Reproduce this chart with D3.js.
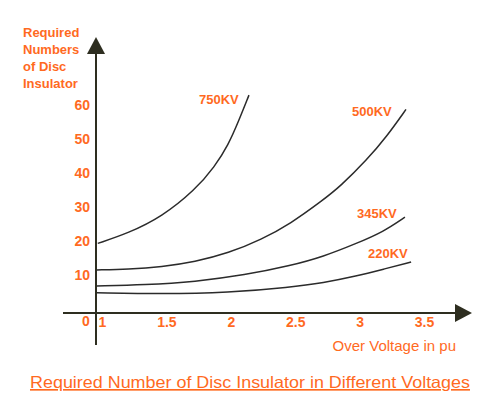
<!DOCTYPE html>
<html>
<head>
<meta charset="utf-8">
<script src="https://cdn.jsdelivr.net/npm/d3@7"></script>
<style>
  body { margin: 0; background: #fff; }
  svg { display: block; }
  text { font-family: "Liberation Sans", Arial, sans-serif; fill: #ff6a1f; }
</style>
</head>
<body>
<svg id="chart" width="500" height="416"></svg>
<script>
// values (over voltage in pu, number of discs)
const seriesNames = ["750KV", "500KV", "345KV", "220KV"];
const pu750 = [0.967, 1.204, 1.464, 1.722, 1.876, 1.981, 2.058, 2.141];
const discs750 = [19.3, 22.3, 27.1, 35.0, 41.9, 48.3, 55.0, 62.9];
const pu500 = [0.959, 1.204, 1.464, 1.722, 1.981, 2.24, 2.46, 2.718, 2.848, 3.055, 3.21, 3.36];
const discs500 = [11.5, 11.7, 12.4, 13.9, 16.4, 20.5, 25.0, 32.1, 36.0, 43.8, 50.7, 58.7];
const pu345 = [0.959, 1.334, 1.722, 2.11, 2.46, 2.718, 2.977, 3.184, 3.352];
const discs345 = [6.8, 7.1, 8.0, 10.0, 12.7, 15.4, 19.3, 22.7, 27.0];
const pu220 = [0.959, 1.464, 1.981, 2.46, 2.718, 2.977, 3.184, 3.40];
const discs220 = [4.8, 4.4, 4.8, 6.4, 7.7, 9.7, 11.7, 13.8];
const xTicks = [1, 1.5, 2, 2.5, 3, 3.5];
const yTicks = [10, 20, 30, 40, 50, 60];

const svg = d3.select("#chart");

const x = d3.scaleLinear().domain([1, 3.5]).range([102, 424]);
const y = d3.scaleLinear().domain([0, 60]).range([309, 105]);

const axisX = 96;   // where the vertical axis stands
const axisY = 313;  // where the horizontal axis lies
const axisColor = "#2e2e20";

// curves
const series = [
    {name: seriesNames[0], pu: pu750, n: discs750, label: [199, 101]},
    {name: seriesNames[1], pu: pu500, n: discs500, label: [352, 113]},
    {name: seriesNames[2], pu: pu345, n: discs345, label: [357, 215]},
    {name: seriesNames[3], pu: pu220, n: discs220, label: [368, 255]}
];

const line = d3.line()
    .x(d => x(d[0]))
    .y(d => y(d[1]))
    .curve(d3.curveBasis);

svg.append("g")
    .attr("class", "curves")
    .selectAll("path")
    .data(series)
    .join("path")
    .attr("fill", "none")
    .attr("stroke", "#2b2b2b")
    .attr("stroke-width", 1.5)
    .attr("d", s => line(s.pu.map((p, i) => [p, s.n[i]])));

svg.append("g")
    .attr("class", "curve_labels")
    .attr("font-size", 13)
    .attr("font-weight", "bold")
    .selectAll("text")
    .data(series)
    .join("text")
    .attr("x", s => s.label[0])
    .attr("y", s => s.label[1])
    .attr("dominant-baseline", "middle")
    .text(s => s.name);

// axes lines and arrow heads
svg.append("line")
    .attr("x1", axisX).attr("x2", axisX)
    .attr("y1", 345).attr("y2", 52)
    .attr("stroke", axisColor).attr("stroke-width", 2);

svg.append("line")
    .attr("x1", 63).attr("x2", 458)
    .attr("y1", axisY).attr("y2", axisY)
    .attr("stroke", axisColor).attr("stroke-width", 2);

svg.append("path")
    .attr("d", `M${axisX},37 L${axisX + 9},54 L${axisX - 9},54 Z`)
    .attr("fill", axisColor);

svg.append("path")
    .attr("d", `M472,${axisY} L455,${axisY - 9} L455,${axisY + 9} Z`)
    .attr("fill", axisColor);

// tick labels
const yAxis = svg.append("g")
    .attr("transform", `translate(${axisX},0)`)
    .call(d3.axisLeft(y).tickValues(yTicks).tickSize(0).tickPadding(6));
yAxis.select(".domain").remove();

const xAxis = svg.append("g")
    .attr("transform", `translate(0,${axisY})`)
    .call(d3.axisBottom(x).tickValues(xTicks).tickSize(0).tickPadding(4)
        .tickFormat(d3.format("")));
xAxis.select(".domain").remove();

svg.selectAll(".tick text")
    .attr("font-family", "Liberation Sans, Arial, sans-serif")
    .attr("font-size", 14)
    .attr("font-weight", "bold")
    .attr("fill", "#ff6a1f");

svg.append("text")
    .attr("x", 86).attr("y", 322)
    .attr("text-anchor", "middle")
    .attr("dominant-baseline", "middle")
    .attr("font-size", 14)
    .attr("font-weight", "bold")
    .text("0");

// axis titles
const yTitle = ["Required", "Numbers", "of Disc", "Insulator"];
svg.append("g")
    .attr("font-size", 13)
    .attr("font-weight", "bold")
    .selectAll("text")
    .data(yTitle)
    .join("text")
    .attr("x", 23)
    .attr("y", (d, i) => 34 + i * 16.7)
    .attr("dominant-baseline", "middle")
    .text(d => d);

svg.append("text")
    .attr("x", 456).attr("y", 347)
    .attr("text-anchor", "end")
    .attr("dominant-baseline", "middle")
    .attr("font-size", 15)
    .text("Over Voltage in pu");

// caption
svg.append("text")
    .attr("x", 30).attr("y", 388)
    .attr("font-size", 16.5)
    .attr("text-decoration", "underline")
    .attr("textLength", 440)
    .attr("lengthAdjust", "spacingAndGlyphs")
    .text("Required Number of Disc Insulator in Different Voltages");
</script>
</body>
</html>
